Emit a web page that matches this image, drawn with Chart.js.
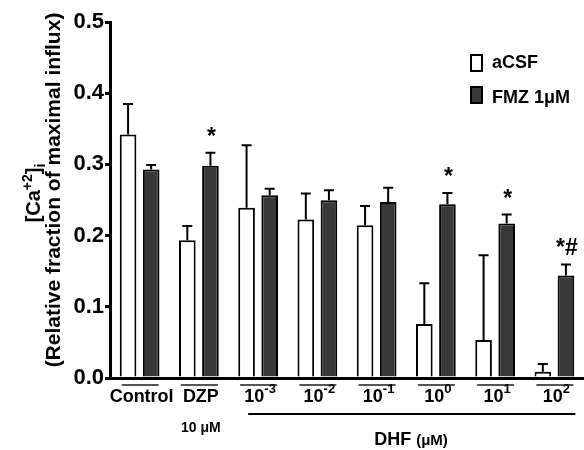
<!DOCTYPE html>
<html>
<head>
<meta charset="utf-8">
<script src="https://cdn.jsdelivr.net/npm/chart.js@4"></script>
<style>
  html, body { margin: 0; background: #fff; }
  #wrap { width: 584px; height: 450px; position: relative; }
</style>
</head>
<body>
<div id="wrap"><canvas id="chart"></canvas></div>
<script>
// values
const categories = ['Control', 'DZP', '10^-3', '10^-2', '10^-1', '10^0', '10^1', '10^2'];
const aCsfMean = [0.342, 0.1935, 0.239, 0.2225, 0.2145, 0.0757, 0.0533, 0.0088];
const aCsfSem  = [0.043, 0.020, 0.088, 0.0365, 0.027, 0.0575, 0.119, 0.011];
const fmzMean  = [0.293, 0.298, 0.2567, 0.2497, 0.2473, 0.244, 0.217, 0.144];
const fmzSem   = [0.006, 0.0185, 0.009, 0.014, 0.020, 0.016, 0.0125, 0.0155];
const fmzMarks = ['', '*', '', '', '', '*', '*', '*#'];
const yTicks   = [0, 0.1, 0.2, 0.3, 0.4, 0.5];

const FONT = '"Liberation Sans", Arial, sans-serif';
const DARK = '#383838';

// draw a run of text pieces (for super/subscripts), returns width
function drawRich(ctx, parts, x, y, align) {
  let total = 0;
  parts.forEach(p => {
    ctx.font = 'bold ' + p.size + 'px ' + FONT;
    p.w = ctx.measureText(p.t).width;
    total += p.w;
  });
  let cx = align === 'center' ? x - total / 2 : x;
  ctx.textAlign = 'left';
  ctx.textBaseline = 'alphabetic';
  parts.forEach(p => {
    ctx.font = 'bold ' + p.size + 'px ' + FONT;
    ctx.fillText(p.t, cx, y + (p.dy || 0));
    cx += p.w;
  });
  return total;
}

const errorBars = {
  id: 'errorBars',
  afterDatasetsDraw(chart) {
    const ctx = chart.ctx;
    const y = chart.scales.y;
    const sems = [aCsfSem, fmzSem];
    const means = [aCsfMean, fmzMean];
    ctx.save();
    ctx.strokeStyle = '#000';
    ctx.lineWidth = 2;
    chart.data.datasets.forEach((ds, di) => {
      chart.getDatasetMeta(di).data.forEach((bar, i) => {
        const top = y.getPixelForValue(means[di][i] + sems[di][i]);
        ctx.beginPath();
        ctx.moveTo(bar.x, bar.y);
        ctx.lineTo(bar.x, top);
        ctx.moveTo(bar.x - 5, top);
        ctx.lineTo(bar.x + 5, top);
        ctx.stroke();
        if (di === 1 && fmzMarks[i]) {
          ctx.fillStyle = '#000';
          ctx.font = 'bold 23px ' + FONT;
          ctx.textAlign = 'center';
          ctx.textBaseline = 'alphabetic';
          ctx.fillText(fmzMarks[i], bar.x + 1, top - 9);
        }
      });
    });
    ctx.restore();
  }
};

const decorations = {
  id: 'decorations',
  afterDraw(chart) {
    const ctx = chart.ctx;
    const x = chart.scales.x;
    ctx.save();
    ctx.fillStyle = '#000';

    // category labels with group underline
    categories.forEach((c, i) => {
      const cx = x.getPixelForValue(i);
      ctx.strokeStyle = '#555';
      ctx.lineWidth = 2;
      ctx.beginPath();
      ctx.moveTo(cx - 18, 385);
      ctx.lineTo(cx + 19, 385);
      ctx.stroke();
      const bits = c.split('^');
      const parts = [{ t: bits[0], size: 18 }];
      if (bits[1]) parts.push({ t: bits[1], size: 13, dy: -9 });
      drawRich(ctx, parts, cx + 2, 402, 'center');
    });
    drawRich(ctx, [{ t: '10 \u03bcM', size: 14 }], x.getPixelForValue(1) + 2, 432, 'center');

    // DHF bracket line
    ctx.strokeStyle = '#000';
    ctx.lineWidth = 2;
    ctx.beginPath();
    ctx.moveTo(x.getPixelForValue(2) - 10, 414);
    ctx.lineTo(x.getPixelForValue(7) + 21, 414);
    ctx.stroke();
    drawRich(ctx, [{ t: 'DHF ', size: 18 }, { t: '(\u03bcM)', size: 15 }], 411, 445, 'center');

    // y axis title
    ctx.save();
    ctx.translate(40, 193);
    ctx.rotate(-Math.PI / 2);
    drawRich(ctx, [
      { t: '[Ca', size: 20 }, { t: '+2', size: 14, dy: -8 },
      { t: ']', size: 20 }, { t: 'i', size: 14, dy: 5 }
    ], 0, 0, 'center');
    ctx.restore();
    ctx.save();
    ctx.translate(60, 190);
    ctx.rotate(-Math.PI / 2);
    drawRich(ctx, [{ t: '(Relative fraction of maximal influx)', size: 21 }], 0, 0, 'center');
    ctx.restore();

    // legend
    const items = [['aCSF', '#fff', 55, 68], ['FMZ 1', DARK, 87, 103]];
    items.forEach(([label, fill, by, ty], k) => {
      ctx.fillStyle = fill;
      ctx.strokeStyle = '#000';
      ctx.lineWidth = 2;
      ctx.fillRect(471, by, 11, 16);
      ctx.strokeRect(471, by, 11, 16);
      ctx.fillStyle = '#000';
      const parts = [{ t: label, size: 18 }];
      if (k === 1) parts.push({ t: '\u03bcM', size: 18 });
      drawRich(ctx, parts, 492, ty, 'left');
    });
    ctx.restore();
  }
};

new Chart(document.getElementById('chart'), {
  type: 'bar',
  data: {
    labels: categories,
    datasets: [
      { label: 'aCSF', data: aCsfMean, backgroundColor: '#fff', borderColor: '#000', borderWidth: 2 },
      { label: 'FMZ 1\u03bcM', data: fmzMean, backgroundColor: DARK, borderColor: '#000', borderWidth: 2 }
    ]
  },
  options: {
    responsive: true,
    maintainAspectRatio: false,
    animation: false,
    categoryPercentage: 0.78,
    barPercentage: 0.72,
    layout: { padding: { top: 22, right: 0, left: 0, bottom: 0 } },
    plugins: { legend: { display: false }, tooltip: { enabled: false } },
    scales: {
      x: {
        grid: { display: false },
        border: { display: true, color: '#000', width: 3 },
        ticks: { display: false },
        afterFit(scale) { scale.height = 72; }
      },
      y: {
        min: 0,
        max: 0.5,
        afterBuildTicks(scale) { scale.ticks = yTicks.map(v => ({ value: v })); },
        afterFit(scale) { scale.width = 110; },
        grid: { display: true, drawOnChartArea: false, drawTicks: true, tickLength: 5, color: '#000', lineWidth: 3 },
        border: { display: true, color: '#000', width: 3 },
        ticks: {
          padding: 1,
          color: '#000',
          font: { family: FONT, size: 22, weight: 'bold' },
          callback: v => v.toFixed(1)
        }
      }
    }
  },
  plugins: [errorBars, decorations]
});
</script>
</body>
</html>
